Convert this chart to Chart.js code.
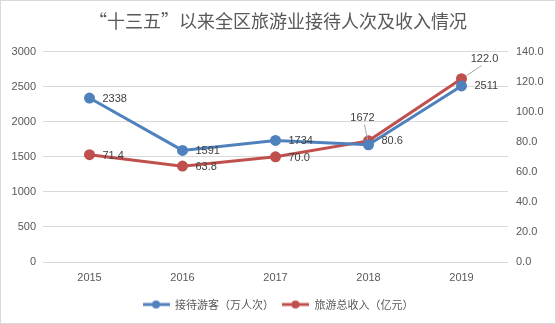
<!DOCTYPE html>
<html>
<head>
<meta charset="utf-8">
<script src="https://cdn.jsdelivr.net/npm/chart.js@4.4.1/dist/chart.umd.min.js"></script>
<style>
	html, body { margin: 0; padding: 0; background: #fff; }
	#wrap { width: 556px; height: 324px; box-sizing: border-box; border: 1px solid #d9d9d9; }
</style>
</head>
<body>
<div id="wrap"><canvas id="chart"></canvas></div>
<script>
// data
const years = ["2015", "2016", "2017", "2018", "2019"];
const visitors = [2338, 1591, 1734, 1672, 2511]; // 接待游客（万人次）
const revenue = [71.4, 63.8, 70.0, 80.6, 122.0]; // 旅游总收入（亿元）

const BLUE = "#4F81BD";
const RED = "#C0504D";
const NUM_FONT = "'Liberation Sans', Arial, sans-serif";
const CJK_FONT = "'Noto Sans CJK SC', sans-serif";

// label placement per point: [dx, dy, align, leader line [x1, y1, x2, y2] relative to the point]
const visitorLabelPos = [
	[13, 1, "left"],
	[13, 1, "left"],
	[13, 1, "left"],
	[-6, -27, "center", [-4, -20, -1, -5]],
	[13, 0, "left"],
];
const revenueLabelPos = [
	[13, 1, "left"],
	[13, 1, "left"],
	[13, 1, "left"],
	[13, 0, "left"],
	[23, -20, "center", [20, -13, 5, -3]],
];

// legend marker: short line with a dot in the middle
function legendMarker(color) {
	const c = document.createElement("canvas");
	c.width = 27;
	c.height = 10;
	const g = c.getContext("2d");
	g.strokeStyle = color;
	g.lineWidth = 3;
	g.beginPath();
	g.moveTo(0, 5);
	g.lineTo(27, 5);
	g.stroke();
	g.fillStyle = color;
	g.beginPath();
	g.arc(13.5, 5, 4, 0, Math.PI * 2);
	g.fill();
	return c;
}

const dataLabels = {
	id: "dataLabels",
	afterDatasetsDraw(chart) {
		const ctx = chart.ctx;
		const sets = [
			{ meta: chart.getDatasetMeta(0), vals: visitors, pos: visitorLabelPos, fmt: (v) => String(v) },
			{ meta: chart.getDatasetMeta(1), vals: revenue, pos: revenueLabelPos, fmt: (v) => v.toFixed(1) },
		];
		ctx.save();
		ctx.font = "11px " + NUM_FONT;
		ctx.fillStyle = "#404040";
		ctx.textBaseline = "middle";
		sets.forEach((s) => {
			s.meta.data.forEach((pt, i) => {
				const [dx, dy, align, leader] = s.pos[i];
				if (leader) {
					ctx.strokeStyle = "#a6a6a6";
					ctx.lineWidth = 1;
					ctx.beginPath();
					ctx.moveTo(pt.x + leader[0], pt.y + leader[1]);
					ctx.lineTo(pt.x + leader[2], pt.y + leader[3]);
					ctx.stroke();
				}
				ctx.textAlign = align;
				ctx.fillText(s.fmt(s.vals[i]), pt.x + dx, pt.y + dy);
			});
		});
		ctx.restore();
	},
};

new Chart(document.getElementById("chart"), {
	type: "line",
	data: {
		labels: years,
		datasets: [
			{
				label: "接待游客（万人次）",
				data: visitors,
				borderColor: BLUE,
				backgroundColor: BLUE,
				borderWidth: 3,
				pointRadius: 4,
				pointHoverRadius: 4,
				tension: 0,
				yAxisID: "y",
			},
			{
				label: "旅游总收入（亿元）",
				data: revenue,
				borderColor: RED,
				backgroundColor: RED,
				borderWidth: 3,
				pointRadius: 4,
				pointHoverRadius: 4,
				tension: 0,
				yAxisID: "y2",
			},
		],
	},
	options: {
		responsive: true,
		maintainAspectRatio: false,
		animation: false,
		layout: { padding: { left: 0, right: 0, top: 0, bottom: 3 } },
		plugins: {
			title: {
				display: true,
				text: "“十三五”以来全区旅游业接待人次及收入情况",
				color: "#595959",
				font: { family: CJK_FONT, size: 18, weight: "normal" },
				padding: { top: 9, bottom: 20 },
			},
			legend: {
				position: "bottom",
				labels: {
					usePointStyle: true,
					pointStyleWidth: 27,
					color: "#595959",
					font: { family: CJK_FONT, size: 11 },
					padding: 8,
					generateLabels(chart) {
						return chart.data.datasets.map((ds, i) => ({
							text: ds.label,
							fontColor: "#595959",
							pointStyle: legendMarker(ds.borderColor),
							strokeStyle: "transparent",
							fillStyle: "transparent",
							lineWidth: 0,
							hidden: false,
							datasetIndex: i,
						}));
					},
				},
			},
			tooltip: { enabled: false },
		},
		scales: {
			x: {
				offset: true,
				grid: { display: false },
				border: { display: false },
				ticks: { color: "#595959", font: { family: NUM_FONT, size: 11 }, padding: 1 },
				afterFit(scale) { scale.height = 29; },
			},
			y: {
				position: "left",
				min: 0,
				max: 3000,
				ticks: {
					stepSize: 500,
					color: "#595959",
					font: { family: NUM_FONT, size: 11 },
					padding: 7,
					callback: (v) => String(v),
				},
				grid: { color: "#d9d9d9", drawTicks: false },
				border: { display: false },
				afterFit(scale) { scale.width = 42; },
			},
			y2: {
				position: "right",
				min: 0,
				max: 140,
				ticks: {
					stepSize: 20,
					color: "#595959",
					font: { family: NUM_FONT, size: 11 },
					padding: 8,
					callback: (v) => v.toFixed(1),
				},
				grid: { display: false, drawTicks: false },
				border: { display: false },
				afterFit(scale) { scale.width = 47; },
			},
		},
	},
	plugins: [dataLabels],
});
</script>
</body>
</html>
